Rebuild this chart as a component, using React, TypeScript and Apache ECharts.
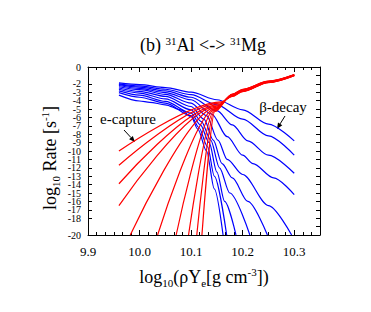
import React, { useEffect, useRef } from "react";
import * as echarts from "echarts";

const FONT = "Liberation Serif";

const xTickLabels = ["9.9", "10.0", "10.1", "10.2", "10.3"];

// e-capture (red), hot -> cold
const red1 = [[9.96, -10.0], [10.158, -4.15], [10.18, -3.5], [10.2, -2.92], [10.25, -1.86], [10.3, -1.04]];
const red2 = [[9.96, -11.7], [10.155, -4.3], [10.18, -3.47], [10.2, -2.89], [10.25, -1.84], [10.3, -1.02]];
const red3 = [[9.96, -13.9], [10.152, -4.5], [10.18, -3.44], [10.2, -2.86], [10.25, -1.82], [10.3, -1.0]];
const red4 = [[9.96, -16.5], [10.15, -4.65], [10.18, -3.41], [10.2, -2.83], [10.25, -1.8], [10.3, -0.98]];
const red5 = [[9.982, -20], [10.148, -4.8], [10.18, -3.38], [10.2, -2.8], [10.25, -1.78], [10.3, -0.96]];
const red6 = [[10.035, -20], [10.146, -4.95], [10.18, -3.35], [10.2, -2.77], [10.25, -1.76], [10.3, -0.95]];
const red7 = [[10.071, -20], [10.145, -5.05], [10.18, -3.32], [10.2, -2.74], [10.25, -1.74], [10.3, -0.94]];
const red8 = [[10.095, -20], [10.145, -5.15], [10.18, -3.29], [10.2, -2.71], [10.25, -1.72], [10.3, -0.93]];
const red9 = [[10.111, -20], [10.145, -5.25], [10.18, -3.26], [10.2, -2.68], [10.25, -1.7], [10.3, -0.92]];
const red10 = [[10.121, -20], [10.146, -5.3], [10.18, -3.23], [10.2, -2.65], [10.25, -1.68], [10.3, -0.91]];

// beta-decay (blue), hot -> cold
const blue1 = [[9.96, -1.9], [10.0, -2.1], [10.05, -2.45], [10.1, -3.0], [10.15, -3.9], [10.2, -5.1], [10.25, -6.8], [10.3, -8.8]];
const blue2 = [[9.96, -2.0], [10.0, -2.25], [10.05, -2.65], [10.1, -3.3], [10.15, -4.5], [10.2, -6.2], [10.25, -8.2], [10.3, -10.5]];
const blue3 = [[9.96, -2.1], [10.0, -2.4], [10.05, -2.85], [10.1, -3.6], [10.15, -5.2], [10.18, -6.9], [10.21, -8.8], [10.25, -10.5], [10.3, -12.65]];
const blue4 = [[9.96, -2.2], [10.0, -2.55], [10.05, -3.05], [10.1, -3.9], [10.14, -5.6], [10.17, -8.3], [10.2, -10.5], [10.22, -11.5], [10.26, -13.2], [10.3, -15.2]];
const blue5 = [[9.96, -2.35], [10.0, -2.7], [10.05, -3.25], [10.1, -4.3], [10.13, -5.8], [10.152, -8.7], [10.17, -11.0], [10.2, -12.8], [10.25, -16.5], [10.295, -20]];
const blue6 = [[9.96, -2.5], [10.0, -2.9], [10.05, -3.5], [10.1, -4.7], [10.125, -6.2], [10.143, -8.7], [10.16, -11.5], [10.18, -13.2], [10.21, -16.0], [10.248, -20]];
const blue7 = [[9.96, -2.65], [10.0, -3.1], [10.05, -3.8], [10.1, -5.1], [10.12, -6.5], [10.138, -8.7], [10.155, -12.0], [10.175, -15.0], [10.214, -20]];
const blue8 = [[9.96, -2.85], [10.0, -3.35], [10.05, -4.1], [10.1, -5.5], [10.118, -6.9], [10.135, -9.0], [10.15, -12.5], [10.165, -16.0], [10.187, -20]];
const blue9 = [[9.96, -3.05], [10.0, -3.6], [10.05, -4.3], [10.1, -5.8], [10.115, -7.2], [10.132, -9.5], [10.145, -13.0], [10.169, -20]];
const blue10 = [[9.96, -3.35], [10.0, -4.05], [10.02, -4.2], [10.05, -4.5], [10.08, -5.1], [10.1, -5.9], [10.113, -7.4], [10.13, -10.0], [10.145, -14.5], [10.162, -20]];

const redLines = [red1, red2, red3, red4, red5, red6, red7, red8, red9, red10];
const blueLines = [blue1, blue2, blue3, blue4, blue5, blue6, blue7, blue8, blue9, blue10];

export default function App() {
  const ref = useRef<HTMLDivElement>(null);
  useEffect(() => {
    if (!ref.current) return;
    const chart = echarts.init(ref.current, null, { renderer: "svg" });
    const mkLine = (data: number[][], color: string) => ({
      type: "line",
      data,
      showSymbol: false,
      symbol: "none",
      smooth: 0.3,
      smoothMonotone: "x",
      lineStyle: { color, width: 1.2 },
      silent: true,
      xAxisIndex: 0,
      yAxisIndex: 0,
    });
    const axisLine = { show: true, onZero: false, lineStyle: { color: "#000", width: 1 } };
    const xCommon = {
      type: "value",
      min: 9.9,
      max: 10.35,
      interval: 0.1,
      axisLine,
      axisTick: { show: true, inside: true, length: 5, lineStyle: { color: "#000" } },
      minorTick: { show: true, splitNumber: 6, length: 3, lineStyle: { color: "#000" } },
      splitLine: { show: false },
    };
    const yCommon = {
      type: "value",
      min: -20,
      max: 0,
      interval: 1,
      axisLine,
      axisTick: { show: true, inside: true, length: 4, interval: 0, lineStyle: { color: "#000" } },
      splitLine: { show: false },
    };
    const txt = (size: number) => ({ fontFamily: FONT, fontSize: size, fill: "#000", color: "#000" });
    const option = {
      animation: false,
      textStyle: { fontFamily: FONT },
      grid: { left: 88, top: 67, right: 51, bottom: 77, containLabel: false },
      xAxis: [
        {
          ...xCommon,
          position: "bottom",
          axisLabel: {
            show: true,
            margin: 10,
            fontFamily: FONT,
            fontSize: 13,
            color: "#000",
            showMaxLabel: false,
            formatter: (v: number) => {
              const s = v.toFixed(1);
              return Math.abs(v - parseFloat(s)) < 1e-6 && xTickLabels.indexOf(s) >= 0 ? "{a|" + s + "}" : "";
            },
            rich: { a: { fontFamily: FONT, fontSize: 13, color: "#000" } },
          },
        },
        { ...xCommon, position: "top", axisLabel: { show: false } },
      ],
      yAxis: [
        {
          ...yCommon,
          position: "left",
          axisLabel: {
            show: true,
            interval: 0,
            hideOverlap: false,
            showMinLabel: true,
            showMaxLabel: true,
            margin: 7,
            fontFamily: FONT,
            fontSize: 10,
            lineHeight: 8,
            color: "#000",
            formatter: (v: number) => "{a|" + String(Math.round(v)) + "}",
            rich: { a: { fontFamily: FONT, fontSize: 10, lineHeight: 8, color: "#000" } },
          },
        },
        { ...yCommon, position: "right", axisLabel: { show: false } },
      ],
      series: [
        ...blueLines.map((d) => mkLine(d, "#0000ff")),
        ...redLines.map((d) => mkLine(d, "#ff0000")),
      ],
      graphic: [
        {
          type: "text",
          x: 203,
          y: 45,
          style: {
            text: "{n|(b) }{s|31}{n|Al <-> }{s|31}{n|Mg}",
            textAlign: "center",
            textVerticalAlign: "middle",
            ...txt(18),
            rich: {
              n: { ...txt(18), lineHeight: 20 },
              s: { ...txt(11), lineHeight: 11, verticalAlign: "top" },
            },
          },
        },
        {
          type: "text",
          x: 50,
          y: 158,
          rotation: Math.PI / 2,
          style: {
            text: "{n|log}{b|10}{n| Rate [s}{s|-1}{n|]}",
            textAlign: "center",
            textVerticalAlign: "middle",
            ...txt(18),
            rich: {
              n: { ...txt(18), lineHeight: 22 },
              b: { ...txt(11), lineHeight: 11, verticalAlign: "bottom" },
              s: { ...txt(11), lineHeight: 11, verticalAlign: "top" },
            },
          },
        },
        {
          type: "text",
          x: 204,
          y: 277,
          style: {
            text: "{n|log}{b|10}{n|(ρY}{b|e}{n|[g cm}{s|-3}{n|])}",
            textAlign: "center",
            textVerticalAlign: "middle",
            ...txt(18),
            rich: {
              n: { ...txt(18), lineHeight: 22 },
              b: { ...txt(11), lineHeight: 11, verticalAlign: "bottom" },
              s: { ...txt(11), lineHeight: 11, verticalAlign: "top" },
            },
          },
        },
        {
          type: "text",
          x: 128,
          y: 119,
          style: {
            text: "{n|e-capture}",
            textAlign: "center",
            textVerticalAlign: "middle",
            ...txt(15),
            rich: { n: { ...txt(15), lineHeight: 16 } },
          },
        },
        {
          type: "text",
          x: 283,
          y: 107,
          style: {
            text: "{n|β-decay}",
            textAlign: "center",
            textVerticalAlign: "middle",
            ...txt(15),
            rich: { n: { ...txt(15), lineHeight: 16 } },
          },
        },
        {
          type: "line",
          shape: { x1: 124, y1: 130, x2: 131, y2: 137.6 },
          style: { stroke: "#000", lineWidth: 1 },
        },
        {
          type: "polygon",
          shape: { points: [[135, 142], [129.1, 139.3], [132.8, 135.9]] },
          style: { fill: "#000" },
        },
        {
          type: "line",
          shape: { x1: 285, y1: 116, x2: 280.1, y2: 123.9 },
          style: { stroke: "#000", lineWidth: 1 },
        },
        {
          type: "polygon",
          shape: { points: [[277, 129], [278.0, 122.6], [282.3, 125.2]] },
          style: { fill: "#000" },
        },
      ],
    };
    chart.setOption(option as any);
    return () => chart.dispose();
  }, []);
  return <div ref={ref} style={{ width: 371, height: 312, position: "absolute", left: 0, top: 0 }} />;
}
